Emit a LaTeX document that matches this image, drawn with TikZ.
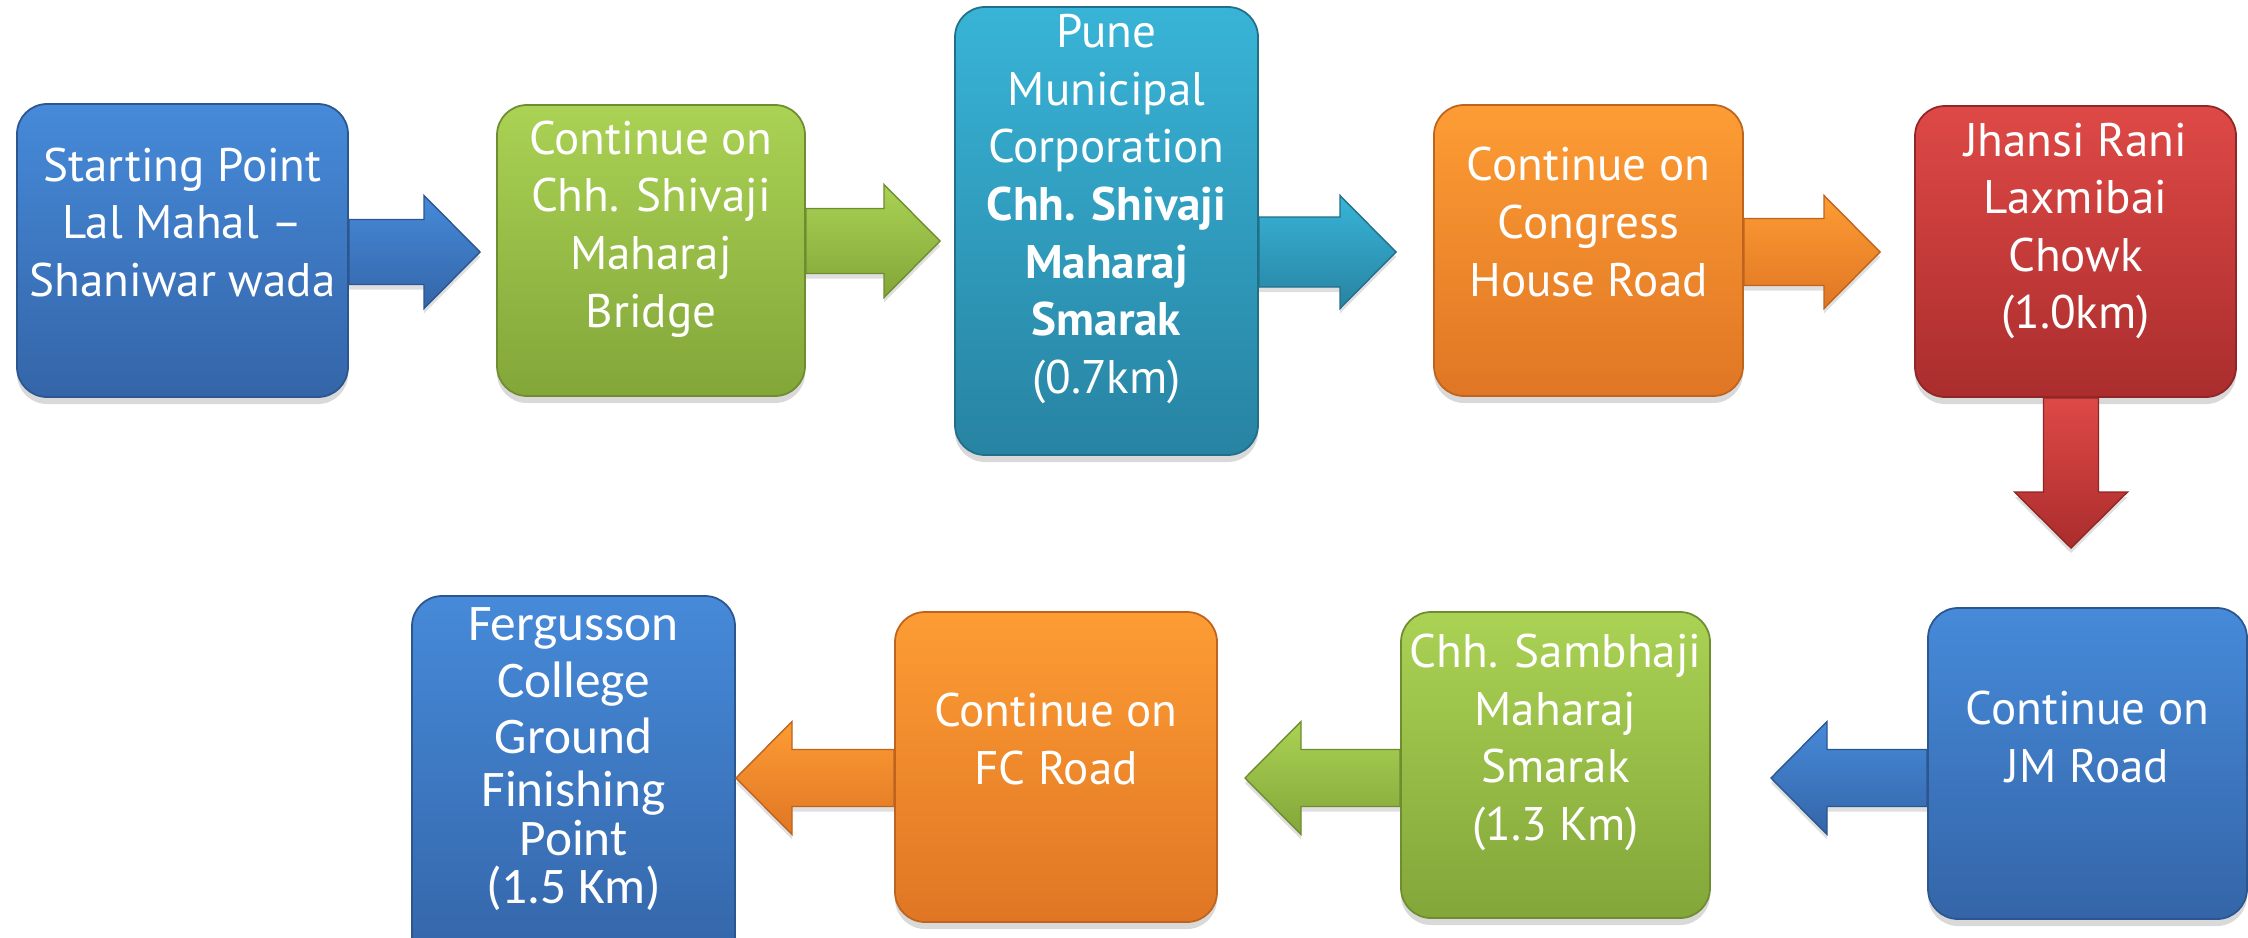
\documentclass[tikz,border=0pt]{standalone}
\usepackage{fontspec}
\setmainfont{PT Sans}
\newfontfamily\finishfont{Carlito}
\usetikzlibrary{calc,shadows}

\definecolor{bluetop}{RGB}{70,138,217}
\definecolor{bluebot}{RGB}{52,101,168}
\definecolor{greentop}{RGB}{170,210,84}
\definecolor{greenbot}{RGB}{131,166,57}
\definecolor{tealtop}{RGB}{56,180,215}
\definecolor{tealbot}{RGB}{40,131,162}
\definecolor{orangetop}{RGB}{253,156,52}
\definecolor{orangebot}{RGB}{224,118,36}
\definecolor{redtop}{RGB}{222,73,70}
\definecolor{redbot}{RGB}{170,45,45}

\tikzset{
  stepbox/.style={rectangle, rounded corners=0.3cm, inner sep=0pt, line width=0.5pt,
    drop shadow={shadow xshift=0pt, shadow yshift=-0.07cm, opacity=0.3}},
  boxtext/.style={text=white, align=center, inner sep=0pt,
    font=\fontsize{13.4}{16.4}\selectfont},
  bluefill/.style={top color=bluetop, bottom color=bluebot, draw=bluebot!85!black},
  greenfill/.style={top color=greentop, bottom color=greenbot, draw=greenbot!85!black},
  tealfill/.style={top color=tealtop, bottom color=tealbot, draw=tealbot!85!black},
  orangefill/.style={top color=orangetop, bottom color=orangebot, draw=orangebot!85!black},
  redfill/.style={top color=redtop, bottom color=redbot, draw=redbot!85!black},
}

% block arrow from tail #2 to tip #3, half shaft width #1
\newcommand{\flowarrow}[4][0.32cm]{%
  \coordinate (ab) at ($(#3)!0.56cm!(#2)$);
  \path[#4, line width=0.4pt, drop shadow={shadow xshift=0pt, shadow yshift=-0.05cm, opacity=0.25}]
    ($(#2)!#1!90:(#3)$) -- ($(ab)!#1!90:(#3)$) -- ($(ab)!0.565cm!90:(#3)$) -- (#3)
    -- ($(ab)!0.565cm!-90:(#3)$) -- ($(ab)!#1!-90:(#3)$) -- ($(#2)!#1!-90:(#3)$) -- cycle;}

\begin{document}
\begin{tikzpicture}
    \useasboundingbox (0,0) rectangle (22.48,9.37);
    \clip (0,0) rectangle (22.48,9.37);
    % boxes
    \node[stepbox, bluefill, minimum width=3.31cm, minimum height=2.93cm] (b1) at (1.825,6.865) {};
    \node[stepbox, greenfill, minimum width=3.08cm, minimum height=2.91cm] (b2) at (6.51,6.865) {};
    \node[stepbox, tealfill, minimum width=3.03cm, minimum height=4.48cm] (b3) at (11.065,7.06) {};
    \node[stepbox, orangefill, minimum width=3.09cm, minimum height=2.91cm] (b4) at (15.885,6.865) {};
    \node[stepbox, redfill, minimum width=3.21cm, minimum height=2.91cm] (b5) at (20.755,6.855) {};
    \node[stepbox, bluefill, minimum width=3.19cm, minimum height=3.11cm] (b6) at (20.875,1.735) {};
    \node[stepbox, greenfill, minimum width=3.09cm, minimum height=3.06cm] (b7) at (15.555,1.72) {};
    \node[stepbox, orangefill, minimum width=3.22cm, minimum height=3.10cm] (b8) at (10.56,1.70) {};
    \node[stepbox, bluefill, minimum width=3.23cm, minimum height=3.70cm] (b9) at (5.735,1.56) {};
    % texts
    \node[boxtext] (l1) at (1.825,7.145) {Starting Point\\Lal Mahal –\\Shaniwar wada};
    \node[boxtext] (l2) at (6.51,7.08) {Continue on\\Chh. Shivaji\\Maharaj\\Bridge};
    \node[boxtext] (l3) at (11.065,7.28) {Pune\\Municipal\\Corporation\\\textbf{Chh. Shivaji}\\\textbf{Maharaj}\\\textbf{Smarak}\\(0.7km)};
    \node[boxtext] (l4) at (15.885,7.15) {Continue on\\Congress\\House Road};
    \node[boxtext] (l5) at (20.755,7.06) {Jhansi Rani\\Laxmibai\\Chowk\\(1.0km)};
    \node[boxtext] (l6) at (20.875,2.00) {Continue on\\JM Road};
    \node[boxtext] (l7) at (15.555,1.945) {Chh. Sambhaji\\Maharaj\\Smarak\\(1.3 Km)};
    \node[boxtext] (l8) at (10.56,1.98) {Continue on\\FC Road};
    \node[boxtext, font=\finishfont\fontsize{14.6}{15}\selectfont] (l9) at (5.735,1.78)
        {Fergusson\\[1.2pt]College\\[1.2pt]Ground\\Finishing\\[-1.2pt]Point\\[-1.2pt](1.5 Km)};
    % arrow tips
    \coordinate (t1) at (4.80,6.85);
    \coordinate (t2) at (9.40,6.96);
    \coordinate (t3) at (13.96,6.85);
    \coordinate (t4) at (18.80,6.85);
    \coordinate (t5) at (20.71,3.89);
    \coordinate (t6) at (17.71,1.59);
    \coordinate (t7) at (12.45,1.59);
    \coordinate (t8) at (7.36,1.59);
    % arrow tails
    \coordinate (s1) at (b1.east |- t1);
    \coordinate (s2) at (b2.east |- t2);
    \coordinate (s3) at (b3.east |- t3);
    \coordinate (s4) at (b4.east |- t4);
    \coordinate (s5) at (b5.south -| t5);
    \coordinate (s6) at (b6.west |- t6);
    \coordinate (s7) at (b7.west |- t7);
    \coordinate (s8) at (b8.west |- t8);
    \foreach \s/\t/\c/\w in {s1/t1/bluefill/0.325cm, s2/t2/greenfill/0.325cm, s3/t3/tealfill/0.35cm,
        s4/t4/orangefill/0.335cm, s5/t5/redfill/0.275cm, s6/t6/bluefill/0.285cm,
        s7/t7/greenfill/0.285cm, s8/t8/orangefill/0.285cm}
        \flowarrow[\w]{\s}{\t}{\c};
\end{tikzpicture}
\end{document}
